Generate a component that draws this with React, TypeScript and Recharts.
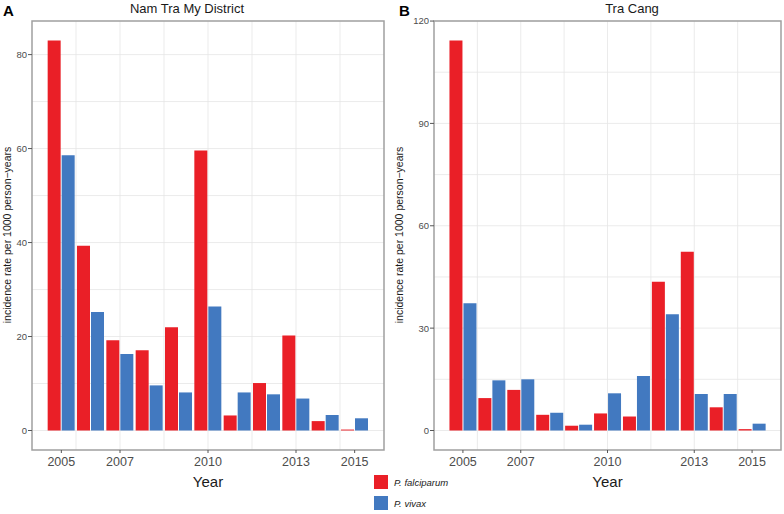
import { BarChart, Bar, XAxis, YAxis, CartesianGrid, ReferenceArea } from 'recharts'

const FONT = '"Liberation Sans", Arial, Helvetica, sans-serif'
const RED = '#EA1F27'
const BLUE = '#4279C0'

const years = [2005, 2006, 2007, 2008, 2009, 2010, 2011, 2012, 2013, 2014, 2015]

// incidence per 1000 person-years
const namTraMyFalciparum = [83.0, 39.3, 19.2, 17.1, 22.0, 59.6, 3.2, 10.1, 20.2, 2.0, 0.2]
const namTraMyVivax = [58.6, 25.2, 16.3, 9.6, 8.1, 26.4, 8.1, 7.7, 6.8, 3.3, 2.6]
const traCangFalciparum = [114.3, 9.5, 11.9, 4.6, 1.4, 5.0, 4.1, 43.6, 52.4, 6.8, 0.4]
const traCangVivax = [37.3, 14.7, 15.0, 5.2, 1.7, 10.9, 16.0, 34.1, 10.7, 10.7, 2.0]

const yearTicks = [2005, 2007, 2010, 2013, 2015]
const yearGrid = [2005.5, 2007, 2008.5, 2010, 2011.5, 2013, 2014.5]
const namTraMyTicks = [0, 20, 40, 60, 80]
const namTraMyGrid = [0, 10, 20, 30, 40, 50, 60, 70, 80]
const traCangTicks = [0, 30, 60, 90, 120]
const traCangGrid = [0, 15, 30, 45, 60, 75, 90, 105, 120]

const species = [
  { key: 'pf', label: 'P. falciparum', color: RED },
  { key: 'pv', label: 'P. vivax', color: BLUE },
]

type PanelProps = {
  left: number
  letter: string
  letterX: number
  title: string
  titleX: number
  pf: number[]
  pv: number[]
  yTicks: number[]
  yGrid: number[]
  yAxisWidth: number
  rightMargin: number
}

function Panel({
  left,
  letter,
  letterX,
  title,
  titleX,
  pf,
  pv,
  yTicks,
  yGrid,
  yAxisWidth,
  rightMargin,
}: PanelProps) {
  const data = years.map((year, i) => ({ year, pf: pf[i], pv: pv[i] }))
  // ggplot-style 5% expansion
  const top = Math.max(...pf, ...pv)
  const pad = top * 0.05
  const yDomain: [number, number] = [-pad, top + pad]
  const mid = (yAxisWidth + 392 - rightMargin) / 2

  return (
    <div style={{ position: 'absolute', left, top: 0, width: 392, height: 514 }}>
      <BarChart
        width={392}
        height={470}
        data={data}
        margin={{ top: 21, right: rightMargin, bottom: 0, left: 0 }}
        barGap={1}
      >
        <CartesianGrid
          stroke="#e6e6e6"
          strokeWidth={0.8}
          horizontalValues={yGrid}
          verticalValues={yearGrid}
        />
        <XAxis
          dataKey="year"
          type="number"
          domain={[2004, 2016]}
          ticks={yearTicks}
          allowDataOverflow
          height={20}
          axisLine={false}
          tickSize={3}
          tickMargin={4}
          tickLine={{ stroke: '#555' }}
          tick={{ fill: '#4d4d4d', fontSize: 12.5, fontFamily: FONT }}
        />
        <YAxis
          type="number"
          domain={yDomain}
          ticks={yTicks}
          allowDataOverflow
          width={yAxisWidth}
          axisLine={false}
          tickSize={4}
          tickMargin={1}
          tickLine={{ stroke: '#555' }}
          tick={{ fill: '#4d4d4d', fontSize: 9.5, fontFamily: FONT }}
        />
        <Bar dataKey="pf" fill={RED} barSize={13} isAnimationActive={false} />
        <Bar dataKey="pv" fill={BLUE} barSize={13} isAnimationActive={false} />
        <ReferenceArea
          x1={2004}
          x2={2016}
          y1={yDomain[0]}
          y2={yDomain[1]}
          fill="none"
          fillOpacity={0}
          stroke="#a0a0a0"
          strokeWidth={1.5}
          strokeOpacity={1}
        />
      </BarChart>
      <svg
        width={392}
        height={514}
        style={{ position: 'absolute', left: 0, top: 0, pointerEvents: 'none', fontFamily: FONT }}
      >
        <text x={letterX} y={16} fontSize={15} fontWeight="bold" fill="#000">
          {letter}
        </text>
        <text x={titleX} y={12.5} fontSize={13} textAnchor="middle" fill="#1a1a1a">
          {title}
        </text>
        <text
          x={0}
          y={0}
          fontSize={10.5}
          textAnchor="middle"
          fill="#1a1a1a"
          transform="translate(11,235) rotate(-90)"
        >
          incidence rate per 1000 person−years
        </text>
        <text x={mid} y={487} fontSize={15} textAnchor="middle" fill="#1a1a1a">
          Year
        </text>
      </svg>
    </div>
  )
}

export default function App() {
  return (
    <div
      style={{
        position: 'absolute',
        left: 0,
        top: 0,
        width: 784,
        height: 514,
        background: '#fff',
        fontFamily: FONT,
      }}
    >
      <Panel
        left={0}
        letter="A"
        letterX={3}
        title="Nam Tra My District"
        titleX={187}
        pf={namTraMyFalciparum}
        pv={namTraMyVivax}
        yTicks={namTraMyTicks}
        yGrid={namTraMyGrid}
        yAxisWidth={32}
        rightMargin={8}
      />
      <Panel
        left={392}
        letter="B"
        letterX={7}
        title="Tra Cang"
        titleX={240}
        pf={traCangFalciparum}
        pv={traCangVivax}
        yTicks={traCangTicks}
        yGrid={traCangGrid}
        yAxisWidth={42}
        rightMargin={3}
      />
      <div style={{ position: 'absolute', left: 374, top: 475 }}>
        {species.map((s) => (
          <div key={s.key} style={{ display: 'flex', alignItems: 'center', height: 14, marginBottom: 7 }}>
            <div style={{ width: 14, height: 14, background: s.color }} />
            <span style={{ marginLeft: 6, fontSize: 9.5, fontStyle: 'italic', color: '#1a1a1a' }}>
              {s.label}
            </span>
          </div>
        ))}
      </div>
    </div>
  )
}
